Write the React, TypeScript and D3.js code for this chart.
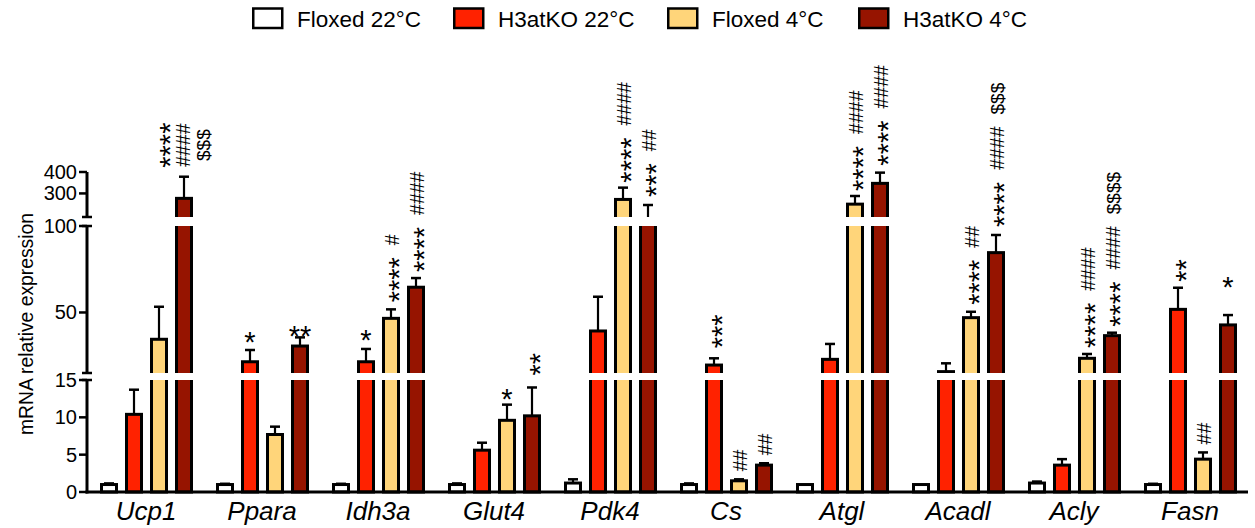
import React from "react";
import * as d3 from "d3";

// ---------- data ----------
const genes = ["Ucp1", "Ppara", "Idh3a", "Glut4", "Pdk4", "Cs", "Atgl", "Acadl", "Acly", "Fasn"];
const seriesNames = ["Floxed 22°C", "H3atKO 22°C", "Floxed 4°C", "H3atKO 4°C"];
const seriesColors = ["#ffffff", "#ff2200", "#ffd57a", "#961400"];

const floxed22Mean = [1.0, 1.0, 1.0, 1.0, 1.2, 1.0, 1.0, 1.0, 1.2, 1.0];
const floxed22Err = [0.15, 0.1, 0.1, 0.15, 0.5, 0.15, 0.05, 0.05, 0.2, 0.1];
const h3atko22Mean = [10.4, 21.5, 21.5, 5.6, 39.3, 19.6, 22.9, 15.8, 3.6, 51.8];
const h3atko22Err = [3.3, 6.8, 7.4, 1.0, 19.8, 3.9, 8.9, 4.8, 0.8, 12.5];
const floxed4Mean = [34.5, 7.7, 46.6, 9.6, 272, 1.5, 250, 47, 23.5, 4.4];
const floxed4Err = [18.8, 1.05, 5.2, 2.1, 55, 0.2, 38, 3.4, 2.5, 0.9];
const h3atko4Mean = [277, 30.6, 64.6, 10.2, 150, 3.6, 347, 84.6, 36.6, 42.8];
const h3atko4Err = [101, 5, 5.3, 3.8, 96, 0.25, 50, 10.2, 1.7, 5.7];

const means = [floxed22Mean, h3atko22Mean, floxed4Mean, h3atko4Mean];
const errs = [floxed22Err, h3atko22Err, floxed4Err, h3atko4Err];

// axis segments (broken y axis)
const segBottomDomain = [0, 15];
const segMidDomain = [15, 100];
const segGapDomain = [100, 190];
const segTopDomain = [190, 400];
const bottomTicks = [0, 5, 10, 15];
const midTicks = [50, 100];
const topTicks = [300, 400];

// significance annotations: gene, series index, text, rotated, gap, separate columns
type Ann = [string, number, string, boolean, number, boolean?];
const annotations: Ann[] = [
  ["Ucp1", 3, "**** #### $$$", true, 9, true],
  ["Ppara", 1, "*", false, 10],
  ["Ppara", 3, "**", false, 4],
  ["Idh3a", 1, "*", false, 11],
  ["Idh3a", 2, "**** #", true, 7],
  ["Idh3a", 3, "**** ####", true, 6],
  ["Glut4", 2, "*", false, 8],
  ["Glut4", 3, "**", true, 12],
  ["Pdk4", 2, "**** ####", true, 5],
  ["Pdk4", 3, "*** ##", true, 8],
  ["Cs", 1, "***", true, 10],
  ["Cs", 2, "##", true, 8],
  ["Cs", 3, "##", true, 8],
  ["Atgl", 2, "**** ####", true, 5],
  ["Atgl", 3, "**** ####", true, 7],
  ["Acadl", 2, "**** ##", true, 7],
  ["Acadl", 3, "**** #### $$$", true, 8],
  ["Acly", 2, "**** ####", true, 6],
  ["Acly", 3, "**** #### $$$$", true, 6],
  ["Fasn", 1, "**", true, 6],
  ["Fasn", 2, "##", true, 8],
  ["Fasn", 3, "*", false, 30],
];

// ---------- layout ----------
const W = 1255;
const H = 528;
const FONT = "'Liberation Sans', Arial, Helvetica, sans-serif";
const axisX = 87;
const baseY = 492;

const yBot = d3.scaleLinear().domain(segBottomDomain).range([492, 380]);
const yMid = d3.scaleLinear().domain(segMidDomain).range([373, 226]);
const yGap = d3.scaleLinear().domain(segGapDomain).range([226, 217]);
const yTop = d3.scaleLinear().domain(segTopDomain).range([217, 172]);
const yv = (v: number) => {
  if (v <= 15) return yBot(v);
  if (v <= 100) return yMid(v);
  if (v < 190) return yGap(v);
  return yTop(v);
};

const xGroup = d3.scaleBand<string>().domain(genes).range([88, 1248]);
const xInner = d3
  .scaleBand<string>()
  .domain(seriesNames)
  .range([8.5, 108.5])
  .paddingInner(0.28)
  .paddingOuter(0.14);

const legendX = [252, 453, 667, 858];

function tokStyle(tok: string) {
  const ch = tok[0];
  if (ch === "*") return { size: 29, adv: 0.389 * 29, c: 0.575 * 29, bot: 0.42 * 29 };
  if (ch === "#") return { size: 19.5, adv: 0.556 * 19.5, c: 0.35 * 19.5, bot: 0 };
  return { size: 19, adv: 0.556 * 19, c: 0.36 * 19, bot: 0 };
}

export default function App() {
  const sw = 3;
  const bars: JSX.Element[] = [];
  const errorBars: JSX.Element[] = [];
  const barCenter = (gi: number, si: number) =>
    (xGroup(genes[gi]) as number) + (xInner(seriesNames[si]) as number) + xInner.bandwidth() / 2;
  const errTopY = (gi: number, si: number) => yv(means[si][gi] + errs[si][gi]);

  genes.forEach((g, gi) => {
    seriesNames.forEach((s, si) => {
      const x0 = (xGroup(g) as number) + (xInner(s) as number);
      const bw = xInner.bandwidth();
      const yt = yv(means[si][gi]);
      bars.push(
        <rect
          key={`b-${gi}-${si}`}
          x={x0 + sw / 2}
          y={yt}
          width={bw - sw}
          height={baseY - yt}
          fill={seriesColors[si]}
          stroke="#000"
          strokeWidth={sw}
        />
      );
      const cx = x0 + bw / 2;
      const ye = errTopY(gi, si);
      if (yt - ye > 0.5) {
        errorBars.push(
          <g key={`e-${gi}-${si}`} stroke="#000" strokeWidth={2.2}>
            <line x1={cx} x2={cx} y1={yt} y2={ye} />
            <line x1={cx - 5} x2={cx + 5} y1={ye} y2={ye} strokeWidth={2.5} />
          </g>
        );
      }
    });
  });

  const annEls: JSX.Element[] = [];
  annotations.forEach((a, ai) => {
    const [gene, si, text, rot, gap, cols] = a;
    const gi = genes.indexOf(gene);
    const cx = barCenter(gi, si) + 1;
    const ye = errTopY(gi, si);
    const toks = text.split(" ");
    if (!rot) {
      const st = tokStyle(toks[0]);
      annEls.push(
        <text
          key={`a-${ai}`}
          x={cx - 1}
          y={ye - gap + st.bot}
          textAnchor="middle"
          fontSize={st.size}
          fontFamily={FONT}
        >
          {text}
        </text>
      );
      return;
    }
    if (cols) {
      const lens = toks.map((t) => t.length * tokStyle(t).adv);
      const maxLen = Math.max(...lens);
      const yc = ye - gap - maxLen / 2;
      const offs = [-21, -1, 19];
      toks.forEach((t, ti) => {
        const st = tokStyle(t);
        annEls.push(
          <text
            key={`a-${ai}-${ti}`}
            transform={`translate(${cx - 1 + offs[ti]},${yc}) rotate(-90)`}
            x={0}
            y={st.c}
            textAnchor="middle"
            fontSize={st.size}
            fontFamily={FONT}
          >
            {t}
          </text>
        );
      });
      return;
    }
    let cursor = ye - gap;
    toks.forEach((t, ti) => {
      const st = tokStyle(t);
      annEls.push(
        <text
          key={`a-${ai}-${ti}`}
          transform={`translate(${cx},${cursor}) rotate(-90)`}
          x={0}
          y={st.c}
          fontSize={st.size}
          fontFamily={FONT}
        >
          {t}
        </text>
      );
      cursor -= t.length * st.adv + 12;
    });
  });

  const tickEls: JSX.Element[] = [];
  const addTick = (v: number, y: number) => {
    tickEls.push(
      <g key={`t-${v}`}>
        <line x1={axisX - 8} x2={axisX} y1={y} y2={y} stroke="#000" strokeWidth={2.5} />
        <text x={axisX - 10} y={y + 7} textAnchor="end" fontSize={20} fontFamily={FONT}>
          {v}
        </text>
      </g>
    );
  };
  bottomTicks.forEach((v) => addTick(v, yBot(v)));
  midTicks.forEach((v) => addTick(v, yMid(v)));
  topTicks.forEach((v) => addTick(v, yTop(v)));

  const segs: [number, number][] = [
    [yBot(segBottomDomain[0]), yBot(segBottomDomain[1])],
    [yMid(segMidDomain[0]), yMid(segMidDomain[1])],
    [yTop(segTopDomain[0]), yTop(segTopDomain[1])],
  ];
  const capYs = [yBot(15), yMid(15), yMid(100), yTop(190)];

  return (
    <svg
      width={W}
      height={H}
      style={{ position: "absolute", left: 0, top: 0, background: "#fff" }}
      fontFamily={FONT}
    >
      <rect x={0} y={0} width={W} height={H} fill="#fff" />
      {/* legend */}
      {seriesNames.map((s, si) => (
        <g key={`l-${si}`}>
          <rect
            x={legendX[si] + 1.25}
            y={8.5}
            width={29}
            height={19.5}
            fill={seriesColors[si]}
            stroke="#000"
            strokeWidth={2.5}
          />
          <text x={legendX[si] + 45} y={27} fontSize={22.5} fontFamily={FONT}>
            {s}
          </text>
        </g>
      ))}
      {bars}
      {errorBars}
      {/* white break bands */}
      <rect x={axisX + 3} y={yMid(15)} width={W - axisX - 3} height={yBot(15) - yMid(15)} fill="#fff" />
      <rect x={axisX + 3} y={yTop(190)} width={W - axisX - 3} height={yMid(100) - yTop(190)} fill="#fff" />
      {annEls}
      {/* y axis */}
      {segs.map(([a, b], i) => (
        <line key={`s-${i}`} x1={axisX} x2={axisX} y1={a + (i === 0 ? 1.5 : 0)} y2={b} stroke="#000" strokeWidth={3} />
      ))}
      {capYs.map((y, i) => (
        <line key={`c-${i}`} x1={axisX - 5} x2={axisX + 5} y1={y} y2={y} stroke="#000" strokeWidth={2.5} />
      ))}
      {tickEls}
      {/* x axis */}
      <line x1={axisX - 1.5} x2={1248} y1={baseY} y2={baseY} stroke="#000" strokeWidth={3} />
      {genes.map((g) => (
        <text
          key={`x-${g}`}
          x={(xGroup(g) as number) + xGroup.bandwidth() / 2}
          y={519.5}
          textAnchor="middle"
          fontSize={26}
          fontStyle="italic"
          fontFamily={FONT}
        >
          {g}
        </text>
      ))}
      <text
        transform={`translate(33,324) rotate(-90)`}
        textAnchor="middle"
        fontSize={21}
        fontFamily={FONT}
        textLength={222}
        lengthAdjust="spacingAndGlyphs"
      >
        mRNA relative expression
      </text>
    </svg>
  );
}
